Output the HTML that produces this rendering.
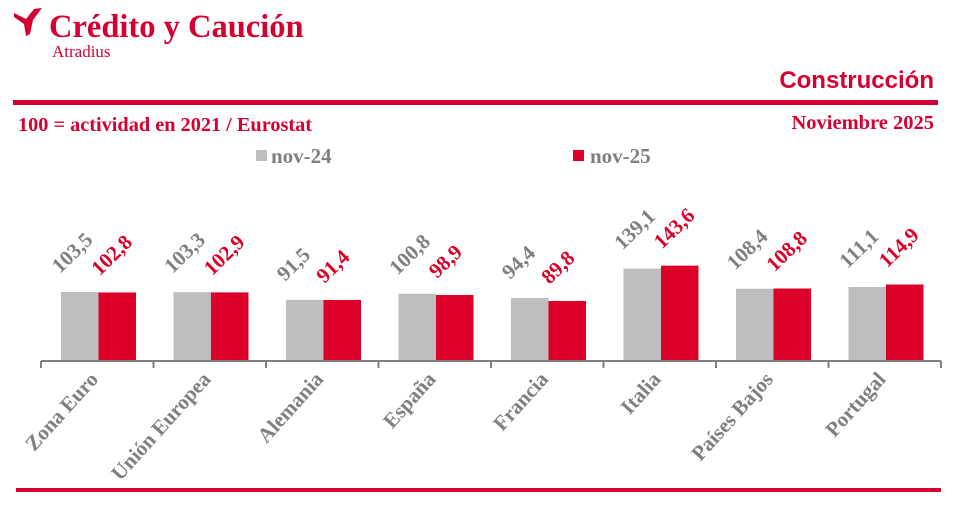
<!DOCTYPE html>
<html><head><meta charset="utf-8"><style>
body{margin:0;background:#fff;width:954px;height:511px;overflow:hidden}
svg text{font-family:"Liberation Serif",serif;font-weight:bold}
</style></head><body>
<svg id="sv" width="954" height="511" viewBox="0 0 954 511" xmlns="http://www.w3.org/2000/svg">
<path d="M14 13 L26 19 L34 9 L42 8 L33 20 L30 34 L26 36 L24 24 L14 17 Z" fill="#d50032"/>
<text x="49" y="37" font-size="32.5" fill="#d50032">Crédito y Caución</text>
<text x="52" y="57" font-size="17" fill="#d50032" style="font-weight:normal">Atradius</text>
<text x="934" y="88" font-size="24" fill="#d50032" text-anchor="end" style="font-family:'Liberation Sans',sans-serif">Construcción</text>
<rect x="13" y="100" width="925" height="5" fill="#d50032"/>
<text x="18" y="131" font-size="20.3" fill="#d50032">100 = actividad en 2021 / Eurostat</text>
<text x="934" y="129" font-size="20.5" fill="#d50032" text-anchor="end">Noviembre 2025</text>
<rect x="256" y="150" width="11" height="11" fill="#bebebe"/>
<text x="271" y="163" font-size="21" fill="#7f7f7f">nov-24</text>
<rect x="573" y="150" width="11" height="11" fill="#dc0028"/>
<text x="590" y="163" font-size="21" fill="#7f7f7f">nov-25</text>
<g id="bars"></g>
<line x1="41" y1="361" x2="941" y2="361" stroke="#808080" stroke-width="2"/>
<g id="ticks" stroke="#808080" stroke-width="2"></g>
<rect x="16" y="488" width="925" height="4" fill="#d50032"/>
</svg>
<script>
var NS="http://www.w3.org/2000/svg";
function el(p,tag,attrs,txt){var e=document.createElementNS(NS,tag);for(var a in attrs)e.setAttribute(a,attrs[a]);if(txt)e.textContent=txt;p.appendChild(e);return e;}
var d=[["Zona Euro",103.5,102.8],["Unión Europea",103.3,102.9],["Alemania",91.5,91.4],["España",100.8,98.9],["Francia",94.4,89.8],["Italia",139.1,143.6],["Países Bajos",108.4,108.8],["Portugal",111.1,114.9]];
var B=document.getElementById("bars"),T=document.getElementById("ticks"),gw=112.5,k=0.657;
function f(v){return v.toFixed(1).replace(".",",");}
for(var i=0;i<d.length;i++){var x0=41+i*gw;
el(T,"line",{x1:x0,y1:361,x2:x0,y2:368});
var h1=d[i][1]*k,h2=d[i][2]*k,gx=x0+20,rx=gx+37.5;
el(B,"rect",{x:gx,y:360-h1,width:37.5,height:h1,fill:"#bebebe"});
el(B,"rect",{x:rx,y:360-h2,width:37.5,height:h2,fill:"#dc0028"});
el(B,"text",{"font-size":21,fill:"#7f7f7f",transform:"translate("+(gx-1)+","+(360-h1-18)+") rotate(-44)"},f(d[i][1]));
el(B,"text",{"font-size":21,fill:"#dc0028",transform:"translate("+(rx+1)+","+(360-h2-16)+") rotate(-44)"},f(d[i][2]));
el(B,"text",{"font-size":21,fill:"#7f7f7f","text-anchor":"end",transform:"translate("+(x0+gw/2+2)+",380) rotate(-48)"},d[i][0]);}
el(T,"line",{x1:941,y1:361,x2:941,y2:368});
</script>
</body></html>
